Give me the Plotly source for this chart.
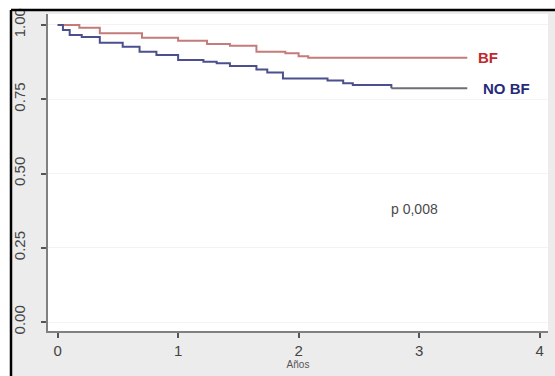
import plotly.graph_objects as go

# Kaplan-Meier style step data (years, survival)
bf_t = [0, 0.18, 0.35, 0.70, 1.00, 1.24, 1.43, 1.65, 1.89, 2.00, 2.08, 3.40]
bf_s = [1.0, 0.991, 0.972, 0.957, 0.947, 0.936, 0.930, 0.910, 0.905, 0.895, 0.890, 0.890]

nobf_t = [0, 0.044, 0.10, 0.20, 0.35, 0.54, 0.68, 0.82, 1.00, 1.21, 1.32, 1.43,
          1.65, 1.74, 1.87, 2.24, 2.37, 2.45, 2.77]
nobf_s = [1.0, 0.983, 0.966, 0.960, 0.940, 0.927, 0.910, 0.899, 0.882, 0.876, 0.871, 0.862,
          0.850, 0.840, 0.820, 0.813, 0.804, 0.798, 0.787]
nobf_tail_t = [2.77, 3.40]
nobf_tail_s = [0.787, 0.787]

x_ticks = [0, 1, 2, 3, 4]
y_ticks = [0.0, 0.25, 0.5, 0.75, 1.0]
y_tick_labels = ["0.00", "0.25", "0.50", "0.75", "1.00"]

labels = ["BF", "NO BF"]
label_pos_t = [3.47, 3.51]
label_pos_s = [0.892, 0.787]
p_text = "p 0,008"

fig = go.Figure()
fig.add_trace(go.Scatter(x=bf_t, y=bf_s, mode="lines", line_shape="hv",
                         line=dict(color="#c47b79", width=2), showlegend=False))
fig.add_trace(go.Scatter(x=nobf_t, y=nobf_s, mode="lines", line_shape="hv",
                         line=dict(color="#4b4f8e", width=2), showlegend=False))
fig.add_trace(go.Scatter(x=nobf_tail_t, y=nobf_tail_s, mode="lines", line_shape="hv",
                         line=dict(color="#6e6e78", width=2.2), showlegend=False))

fig.add_annotation(x=label_pos_t[0], y=label_pos_s[0], text="<b>" + labels[0] + "</b>",
                   showarrow=False, xanchor="left", yanchor="middle",
                   font=dict(family="Liberation Sans", size=15, color="#c0282e"))
fig.add_annotation(x=label_pos_t[1], y=label_pos_s[1], text="<b>" + labels[1] + "</b>",
                   showarrow=False, xanchor="left", yanchor="middle",
                   font=dict(family="Liberation Sans", size=15, color="#262a7a"))
fig.add_annotation(x=2.96, y=0.38, text=p_text, showarrow=False,
                   xanchor="center", yanchor="middle",
                   font=dict(family="Liberation Sans", size=14, color="#4a4a4a"))

# frame: white outside strip + black border lines
fig.add_shape(type="rect", xref="paper", yref="paper", x0=-0.2, x1=-0.074, y0=-0.3, y1=1.2,
              fillcolor="white", line_width=0, layer="below")
fig.add_shape(type="rect", xref="paper", yref="paper", x0=-0.2, x1=1.2, y0=1.0126, y1=1.2,
              fillcolor="white", line_width=0, layer="below")
fig.add_shape(type="line", xref="paper", yref="paper", x0=-0.074, x1=-0.074, y0=-0.3, y1=1.0126,
              line=dict(color="black", width=2.5))
fig.add_shape(type="line", xref="paper", yref="paper", x0=-0.074, x1=1.2, y0=1.0126, y1=1.0126,
              line=dict(color="black", width=2.5))

fig.update_layout(
    width=555, height=376,
    margin=dict(l=48, r=7, t=14, b=45),
    paper_bgcolor="#ececec",
    plot_bgcolor="white",
    font=dict(family="Liberation Sans", color="#444444"),
    xaxis=dict(range=[-0.08, 4.07], tickvals=x_ticks, ticks="outside", ticklen=5,
               tickwidth=2, tickcolor="#555555", showline=True, linecolor="#808080",
               linewidth=2, showgrid=False, zeroline=False, automargin=False,
               tickfont=dict(size=15, color="#444444"),
               title=dict(text="Años", font=dict(size=10, color="#555555"), standoff=0)),
    yaxis=dict(range=[-0.03, 1.037], tickvals=y_ticks, ticktext=y_tick_labels,
               ticks="outside", ticklen=5, tickwidth=2, tickcolor="#555555",
               showline=True, linecolor="#808080", linewidth=2, automargin=False,
               showgrid=True, gridcolor="#f3f3f3", zeroline=False, tickangle=-90,
               ticklabelstandoff=10,
               tickfont=dict(size=15, color="#444444")),
)

fig.write_html("out.html", config={"displayModeBar": False},
               post_script="document.body.style.margin='0';document.body.style.overflow='hidden';")
